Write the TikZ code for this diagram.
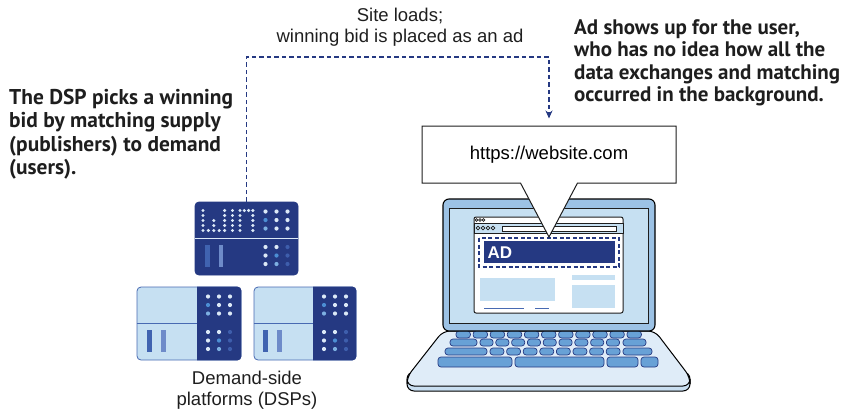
\documentclass[tikz,border=0pt]{standalone}
\usepackage{fontspec}
\setmainfont{Liberation Sans}
\newfontfamily\calloutfont{PT Sans}
\definecolor{adnavy}{RGB}{37, 57, 130}
\definecolor{panelblue}{RGB}{198, 224, 242}
\definecolor{edgeblue}{RGB}{72, 106, 178}
\definecolor{lidblue}{RGB}{156, 194, 229}
\definecolor{baseblue}{RGB}{223, 236, 248}
\definecolor{lipblue}{RGB}{200, 222, 241}
\definecolor{keyblue}{RGB}{104, 161, 214}
\definecolor{dotpale}{RGB}{220, 233, 247}
\definecolor{dotmid}{RGB}{76, 142, 212}
\definecolor{dotsoft}{RGB}{125, 176, 226}
\definecolor{dotdeep}{RGB}{62, 94, 172}
\definecolor{barblue}{RGB}{64, 99, 176}
\definecolor{barsoft}{RGB}{110, 139, 201}
\definecolor{inkgray}{RGB}{30, 30, 30}
\usepackage{tikz}
\usetikzlibrary{arrows.meta,positioning,shapes.callouts}

\newcommand{\rackdots}[1]{%
  \begin{scope}[shift={(#1.center)}]
    \foreach \dx/\dy/\tint in {19/-27/dotpale, 30/-27/dotpale, 41/-27/dotpale,
        19/-18.5/dotmid, 30/-18.5/dotpale, 41/-18.5/dotpale,
        19/-10/dotsoft, 30/-10/dotpale, 41/-10/dotpale,
        19/8.5/dotpale, 30/8.5/dotpale, 41/8.5/dotdeep,
        19/17/dotpale, 30/17/dotmid, 41/17/dotdeep,
        19/25.5/dotpale, 30/25.5/dotsoft, 41/25.5/dotdeep}
      \fill[\tint] (\dx,\dy) circle (2.1);
    \fill[barblue] (-42,6.5) rectangle (-37,28.5);
    \fill[barsoft] (-28,6.5) rectangle (-23.5,28.5);
  \end{scope}}

\newcommand{\rackshade}[1]{%
  \fill[adnavy] ([xshift=8pt]#1.north) [rounded corners=4pt] -- (#1.north east)
    -- (#1.south east) [sharp corners] -- ([xshift=8pt]#1.south) -- cycle;
  \draw[edgeblue, line width=0.8pt] (#1.west) -- ([xshift=8pt]#1.center);}

\begin{document}
\begin{tikzpicture}[x=1pt, y=-1pt,
    rack/.style={rectangle, rounded corners=4pt, minimum width=104pt, minimum height=73pt,
      inner sep=0pt, fill=panelblue, draw=edgeblue, line width=0.8pt},
    key/.style={fill=keyblue, draw=adnavy, line width=0.7pt, rounded corners=3pt},
    link/.style={adnavy, line width=1.2pt, dash pattern=on 4.5pt off 3pt,
      -{Stealth[length=8pt, width=7pt]}, shorten >=7pt},
    caption/.style={font=\fontsize{18.5}{21}\selectfont, text=inkgray, align=center, inner sep=0pt},
    notetext/.style={font=\calloutfont\bfseries\fontsize{21.4}{23.3}\selectfont, text=inkgray,
      align=left, inner sep=0pt, anchor=north west},
    bubble/.style={rectangle callout, draw=inkgray, fill=white, line width=1pt,
      minimum width=254pt, minimum height=57pt, callout pointer width=57pt, inner sep=0pt,
      font=\fontsize{18.5}{21}\selectfont}]
\useasboundingbox (0,0) rectangle (854,413);

\node[notetext] (picknote) at (9,89) {The DSP picks a winning\\bid by matching supply\\(publishers) to demand\\(users).};
\node[notetext, font=\calloutfont\bfseries\fontsize{21}{22.6}\selectfont] (usernote) at (574,19) {Ad shows up for the user,\\who has no idea how all the\\data exchanges and matching\\occurred in the background.};
\node[caption] (loadnote) at (400,27.5) {Site loads;\\winning bid is placed as an ad};

% demand-side platforms
\node[rack] (dspleft) at (189,323.5) {};
\node[rack, minimum width=102pt] (dspright) at (305,323.5) {};
\rackshade{dspleft}
\rackshade{dspright}
\rackdots{dspleft}
\rackdots{dspright}

\node[rack, minimum width=103pt, fill=adnavy, draw=adnavy] (win) at (246.5,238.5) {};
\draw[dotpale, line width=0.6pt] (win.west) -- (win.east);
\rackdots{win}
\begin{scope}[shift={(win.center)}]
  \foreach \c/\r in {0/0,0/1,0/2,0/3,0/4,1/4,2/2,2/3,2/4,3/4,4/0,4/1,4/2,4/3,4/4}
    \fill[dotpale] ({-43.5+5.4*\c},{-28+5*\r}) circle (1.7);
  \foreach \r in {0,...,4}
    \fill[dotpale] (-14,{-28+5*\r}) circle (1.7);
  \foreach \c/\r in {0/0,0/1,0/2,0/3,0/4,1/0,2/0,3/0,3/1,3/2,3/3,3/4}
    \fill[dotpale] ({-6.5+4.3*\c},{-28+5*\r}) circle (1.7);
\end{scope}

\node[caption] (dsplabel) at (247,390) {Demand-side\\platforms (DSPs)};

% laptop base and keyboard
\draw[fill=lipblue, line width=1pt, rounded corners=7pt] (407,372) rectangle (690,391);
\draw[fill=baseblue, line width=1pt, rounded corners=7pt]
  (443,331) -- (655,331) -- (690,377) -- (690,386) -- (407,386) -- (407,377) -- cycle;
\foreach \k in {0,...,10}
  \draw[key] ({456+17.1*\k},331) rectangle ++(14.4,7);
\draw[key] (450,339) rectangle (477,346);
\foreach \k in {0,...,8}
  \draw[key] ({480+15.8*\k},339) rectangle ++(13.1,7);
\draw[key] (623,339) rectangle (646,346);
\draw[key] (445,348) rectangle (487,355);
\foreach \k in {0,...,7}
  \draw[key] ({490+16.6*\k},348) rectangle ++(13.9,7);
\draw[key] (623,348) rectangle (652,355);
\draw[key] (438,357) rectangle (512,367);
\draw[key] (515,357) rectangle (604,367);
\draw[key] (607,357) rectangle (638,367);
\draw[key] (641,357) rectangle (658,367);

% laptop lid and browser window
\draw[fill=lidblue, line width=1.1pt, rounded corners=6pt] (443,199) rectangle (655,331);
\draw[fill=panelblue, draw=inkgray, line width=1pt] (449,208) rectangle (648,323);
\draw[fill=white, draw=inkgray, line width=1pt, rounded corners=2pt] (474,217) rectangle (623,313);
\draw[fill=panelblue, draw=inkgray, line width=0.8pt] (474,223) rectangle (623,233);
\foreach \x in {476.5,480,483.5}
  \draw[inkgray, line width=0.6pt] (\x,220) circle (1.4);
\foreach \x in {478,483,488,493}
  \draw[inkgray, line width=0.7pt] (\x,228) circle (1.9);
\draw[fill=white, draw=inkgray, line width=0.7pt] (502,226) rectangle (616,231);

\fill[panelblue] (480,278) rectangle (555,301);
\fill[panelblue] (572,275) rectangle (615,280);
\fill[panelblue] (572,285) rectangle (615,308);
\draw[edgeblue, line width=1.3pt] (484,308.5) -- (524,308.5);
\draw[edgeblue, line width=1.3pt] (535,308.5) -- (549,308.5);

\draw[adnavy, line width=1.2pt, dash pattern=on 4pt off 2.5pt] (479,238) rectangle (619,267);
\fill[adnavy] (484,241) rectangle (615,263);
\node[font=\bfseries\fontsize{17}{17}\selectfont, text=white, anchor=west, inner sep=0pt] (adlabel) at (487.5,252.5) {AD};

\node[bubble, callout absolute pointer={(549,237)}] (bubble) at (549,154.5) {https://website.com};

\coordinate (loadturn) at (400,57);
\draw[link] (win.north) |- (loadturn) -| (bubble.north);
\end{tikzpicture}
\end{document}
